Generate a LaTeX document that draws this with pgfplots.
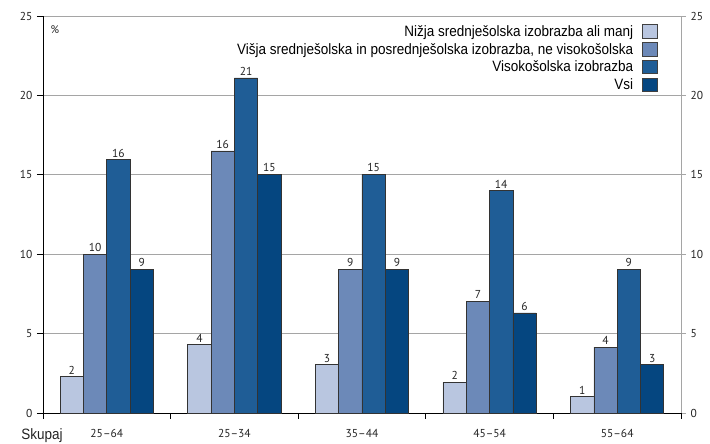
\documentclass[border=0pt]{standalone}
\usepackage{pgfplots}
\pgfplotsset{compat=1.18}
\usepackage{fontspec}
\setmainfont{PT Sans}
\newfontfamily\legfont[FakeStretch=0.9]{Liberation Sans}
\definecolor{cA}{RGB}{185,198,224}
\definecolor{cB}{RGB}{108,137,184}
\definecolor{cC}{RGB}{31,93,150}
\definecolor{cD}{RGB}{5,70,128}
\definecolor{gridc}{RGB}{165,165,165}
\definecolor{txt}{RGB}{35,35,35}
\begin{document}
\begin{tikzpicture}
\path[use as bounding box] (-43pt,-31pt) rectangle (667pt,413pt);
\pgfplotsset{
  every axis/.append style={scale only axis, width=638pt, height=397pt,
    xmin=-0.5, xmax=4.5, ymin=0, ymax=25, at={(0pt,0pt)}, anchor=south west,
    /pgf/number format/assume math mode=true,
    ticklabel style={font=\fontsize{11.5}{13}\selectfont, text=txt}},
  mybar/.style={fill=#1, draw=black!80, line width=0.6pt,
    legend image code/.code={\path (0pt,0pt); \draw[fill=#1, draw=black!75, line width=0.6pt] (7pt,-6.5pt) rectangle (22pt,7pt);}},
}
% right / top frame
\begin{axis}[
  axis x line*=top, axis y line*=right,
  xtick=\empty, ytick={0,5,...,25},
  axis line style={gridc, line width=0.9pt},
  tick style={gridc, line width=0.6pt}, tick align=outside, major tick length=5pt,
  yticklabel style={xshift=1pt},
]
\addplot[draw=none] coordinates {(0,0)};
\end{axis}
\begin{axis}[
  axis x line*=bottom, axis y line*=left,
  axis line style={black, line width=0.9pt},
  ybar=0pt, bar width=23.3pt,
  ytick={0,5,...,25}, ymajorgrids, grid style={gridc, line width=0.6pt},
  xtick={-0.5,0.5,...,4.5}, xticklabels={},
  tick style={black, line width=0.8pt}, tick align=outside, major tick length=6pt,
  extra x ticks={0,1,2,3,4},
  extra x tick labels={25--64,25--34,35--44,45--54,55--64},
  extra x tick style={major tick length=0pt, tick style={draw=none}, grid=none,
     xticklabel style={yshift=-13pt}},
  yticklabel style={xshift=-1pt},
  nodes near coords, point meta=explicit symbolic,
  every node near coord/.append style={font=\fontsize{11.5}{13}\selectfont, text=txt, inner sep=2pt},
  legend style={at={(1,1)}, anchor=north east, xshift=-23pt, yshift=-7pt,
    draw=none, fill=none, font=\legfont\fontsize{15}{18}\selectfont,
    row sep=1.5pt, inner sep=0pt},
  legend cell align=right, legend plot pos=right,
  clip=false,
]
\addplot[mybar=cA] coordinates {(0,2.3) [2] (1,4.3) [4] (2,3.05) [3] (3,1.95) [2] (4,1.05) [1]};
\addplot[mybar=cB] coordinates {(0,10.0) [10] (1,16.5) [16] (2,9.05) [9] (3,7.05) [7] (4,4.15) [4]};
\addplot[mybar=cC] coordinates {(0,15.95) [16] (1,21.1) [21] (2,15.05) [15] (3,14.0) [14] (4,9.05) [9]};
\addplot[mybar=cD] coordinates {(0,9.05) [9] (1,15.05) [15] (2,9.05) [9] (3,6.3) [6] (4,3.05) [3]};
\legend{Nižja srednješolska izobrazba ali manj,
  {Višja srednješolska in posrednješolska izobrazba, ne visokošolska},
  Visokošolska izobrazba, Vsi}
\node[font=\fontsize{11}{13}\selectfont, text=txt] at ([xshift=12pt,yshift=-14pt]rel axis cs:0,1) {\%};
\node[font=\legfont\fontsize{15}{17}\selectfont, text=txt] at ([xshift=-1pt,yshift=-23pt]rel axis cs:0,0) {Skupaj};
\end{axis}
\end{tikzpicture}
\end{document}
